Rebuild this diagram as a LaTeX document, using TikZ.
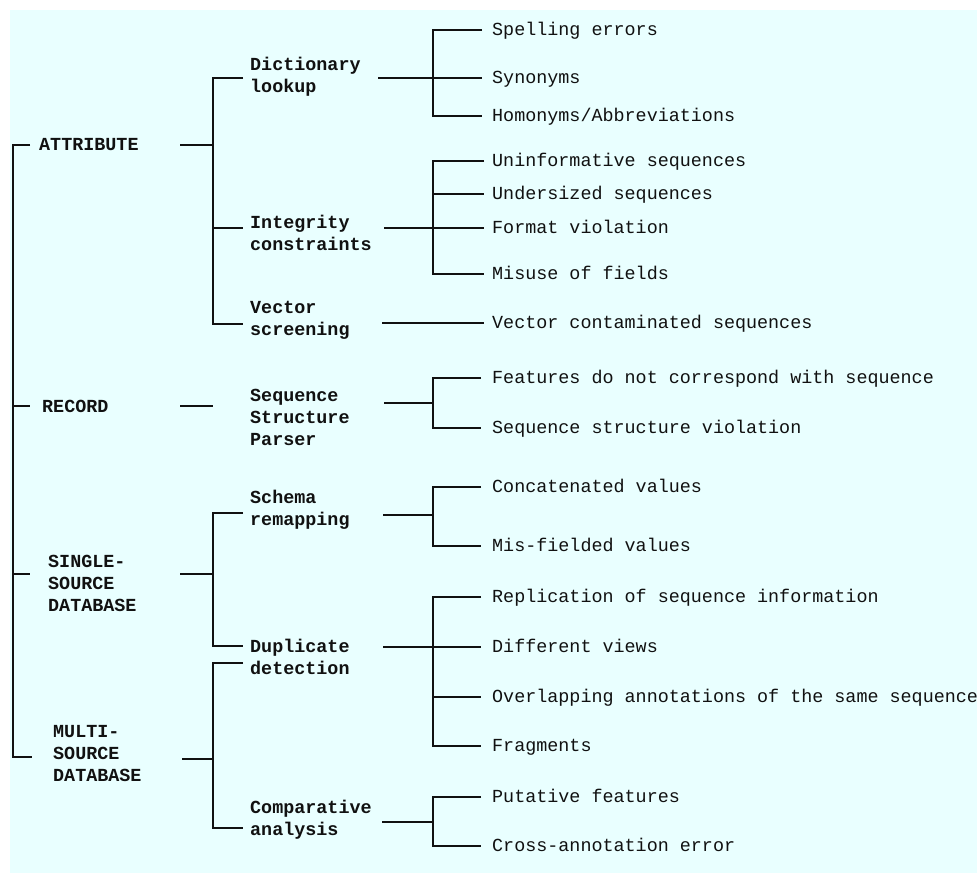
\documentclass[tikz,border=0pt]{standalone}
\usepackage{fontspec}
\setmainfont{Liberation Mono}
\definecolor{bgcyan}{RGB}{233,255,255}
\definecolor{ink}{RGB}{17,17,17}
\begin{document}
\begin{tikzpicture}[x=1pt,y=-1pt,
  conn/.style={draw=ink, line width=1.6pt, line join=miter},
  leaf/.style={anchor=base west, inner sep=0pt, text=ink, font=\fontsize{18.4}{22}\selectfont},
  cat/.style={anchor=base west, inner sep=0pt, align=left, text=ink, font=\fontsize{18.4}{22}\selectfont\bfseries}]
\useasboundingbox (0,0) rectangle (977,873);
\fill[bgcyan] (10,10) rectangle (977,873);

% level 0 (coordinates give the baseline of the last line)
\node[cat] (attr) at (39,150.5) {ATTRIBUTE};
\node[cat] (rec) at (42,412.5) {RECORD};
\node[cat] (ssd) at (48,611.5) {SINGLE-\\SOURCE\\DATABASE};
\node[cat] (msd) at (53,781.5) {MULTI-\\SOURCE\\DATABASE};

% level 1
\node[cat] (dict) at (250,92.5) {Dictionary\\lookup};
\node[cat] (integ) at (250,250.5) {Integrity\\constraints};
\node[cat] (vec) at (250,335.5) {Vector\\screening};
\node[cat] (ssp) at (250,445.5) {Sequence\\Structure\\Parser};
\node[cat] (schema) at (250,525.5) {Schema\\remapping};
\node[cat] (dup) at (250,674.5) {Duplicate\\detection};
\node[cat] (comp) at (250,835.5) {Comparative\\analysis};

% leaves
\node[leaf] (l1) at (492,35) {Spelling errors};
\node[leaf] (l2) at (492,83) {Synonyms};
\node[leaf] (l3) at (492,121) {Homonyms/Abbreviations};
\node[leaf] (l4) at (492,166) {Uninformative sequences};
\node[leaf] (l5) at (492,199) {Undersized sequences};
\node[leaf] (l6) at (492,233) {Format violation};
\node[leaf] (l7) at (492,279) {Misuse of fields};
\node[leaf] (l8) at (492,328) {Vector contaminated sequences};
\node[leaf] (l9) at (492,383) {Features do not correspond with sequence};
\node[leaf] (l10) at (492,433) {Sequence structure violation};
\node[leaf] (l11) at (492,492) {Concatenated values};
\node[leaf] (l12) at (492,551) {Mis-fielded values};
\node[leaf] (l13) at (492,602) {Replication of sequence information};
\node[leaf] (l14) at (492,652) {Different views};
\node[leaf] (l15) at (492,702) {Overlapping annotations of the same sequence};
\node[leaf] (l16) at (492,751) {Fragments};
\node[leaf] (l17) at (492,802) {Putative features};
\node[leaf] (l18) at (492,851) {Cross-annotation error};

% level 0 trunk
\draw[conn] (30,145) -- (13,145) -- (13,757) -- (32,757);
\draw[conn] (13,406) -- (30,406);
\draw[conn] (13,574) -- (30,574);

% level 0 -> level 1
\draw[conn] (180,145) -- (213,145);
\draw[conn] (243,78) -- (213,78) -- (213,324) -- (243,324);
\draw[conn] (213,228) -- (243,228);
\draw[conn] (180,406) -- (213,406);
\draw[conn] (180,574) -- (213,574);
\draw[conn] (243,513) -- (213,513) -- (213,646) -- (243,646);
\draw[conn] (182,759) -- (213,759);
\draw[conn] (243,663) -- (213,663) -- (213,828) -- (243,828);

% level 1 -> leaves
\draw[conn] (378,78) -- (433,78);
\draw[conn] (482,30) -- (433,30) -- (433,116) -- (482,116);
\draw[conn] (433,78) -- (482,78);

\draw[conn] (384,228) -- (433,228);
\draw[conn] (484,161) -- (433,161) -- (433,274) -- (484,274);
\draw[conn] (433,194) -- (484,194);
\draw[conn] (433,228) -- (484,228);

\draw[conn] (382,323) -- (484,323);

\draw[conn] (384,403) -- (433,403);
\draw[conn] (481,378) -- (433,378) -- (433,428) -- (481,428);

\draw[conn] (383,515) -- (433,515);
\draw[conn] (481,487) -- (433,487) -- (433,546) -- (481,546);

\draw[conn] (383,647) -- (433,647);
\draw[conn] (481,597) -- (433,597) -- (433,746) -- (481,746);
\draw[conn] (433,647) -- (481,647);
\draw[conn] (433,697) -- (481,697);

\draw[conn] (382,822) -- (433,822);
\draw[conn] (481,797) -- (433,797) -- (433,846) -- (481,846);
\end{tikzpicture}
\end{document}
